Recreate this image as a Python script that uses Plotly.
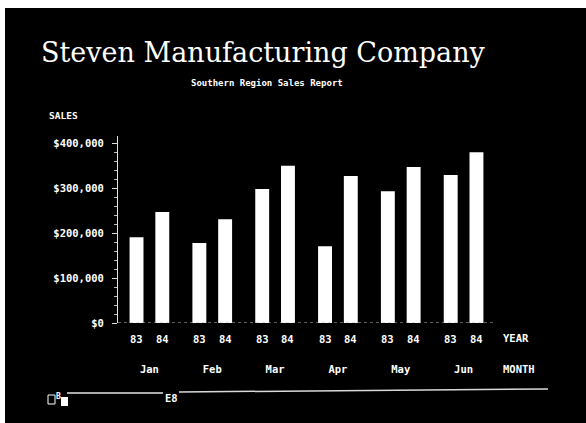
import plotly.graph_objects as go

# Monthly sales, Southern Region
months = ["Jan", "Feb", "Mar", "Apr", "May", "Jun"]
years = ["83", "84"]
sales_83 = [191000, 178000, 298000, 171000, 293000, 329000]
sales_84 = [247000, 231000, 350000, 327000, 347000, 380000]
y_ticks = [0, 100000, 200000, 300000, 400000]

W, H = 586, 423
# plot-area edges in pixels
L, R, T, B = 118, 495, 136, 323

BARGAP, GROUPGAP = 0.18, 0.46


def px(x):
    return (x - L) / (R - L)


def py(y):
    return (B - y) / (B - T)


MONO = "DejaVu Sans Mono"
LABEL_FONT = dict(family=MONO, size=10.5, color="white")


def label(x, y, text, font=LABEL_FONT, xanchor="center"):
    return dict(x=px(x), y=py(y), xref="paper", yref="paper",
                xanchor=xanchor, yanchor="middle", text=text,
                showarrow=False, font=font)


fig = go.Figure()
for yr, vals in zip(years, [sales_83, sales_84]):
    fig.add_trace(go.Bar(
        x=months, y=vals, name=yr,
        marker=dict(color="white", line=dict(width=0)),
        showlegend=False,
    ))

# year labels beneath each bar of a group
unit_px = (R - L) / len(months)
slot_px = unit_px * (1 - BARGAP) / len(years)
annotations = []
for m in months:
    for k, yr in enumerate(years):
        annotations.append(dict(
            x=m, xref="x", y=0, yref="paper", yanchor="top", yshift=-8,
            xshift=(k - (len(years) - 1) / 2) * slot_px,
            text=f"<b>{yr}</b>", showarrow=False, font=LABEL_FONT,
        ))

annotations += [
    label(263, 52, "Steven Manufacturing Company",
          dict(family="DejaVu Serif", size=27, color="white")),
    label(267, 83, "<b>Southern Region Sales Report</b>",
          dict(family=MONO, size=9, color="white")),
    label(47, 115, "<b>SALES</b>", dict(family=MONO, size=9.5, color="white"),
          xanchor="left"),
    label(501, 338, "<b>YEAR</b>", xanchor="left"),
    label(501, 369, "<b>MONTH</b>", xanchor="left"),
    label(171, 398, "<b>E8</b>"),
    label(58, 396, "<b>B</b>", dict(family=MONO, size=8, color="white")),
]

shapes = [
    # dark panel over white paper
    dict(type="rect", xref="paper", yref="paper", layer="below",
         x0=px(5), x1=px(W + 5), y0=py(H + 5), y1=py(8),
         fillcolor="black", line=dict(width=0)),
    # dotted baseline
    dict(type="line", xref="paper", yref="y", x0=0, x1=1, y0=0, y1=0,
         line=dict(color="#bfbfbf", width=1, dash="dot")),
    # status rule at the bottom
    dict(type="line", xref="paper", yref="paper",
         x0=px(67), x1=px(163), y0=py(393), y1=py(393),
         line=dict(color="#e6e6e6", width=1.5)),
    dict(type="line", xref="paper", yref="paper",
         x0=px(179), x1=px(548), y0=py(392), y1=py(389),
         line=dict(color="#d9d9d9", width=1.5)),
    # cursor box
    dict(type="rect", xref="paper", yref="paper",
         x0=px(48), x1=px(55), y0=py(404), y1=py(395),
         line=dict(color="white", width=1), fillcolor="black"),
    dict(type="rect", xref="paper", yref="paper",
         x0=px(61), x1=px(68), y0=py(406), y1=py(397),
         line=dict(width=0), fillcolor="white"),
]

fig.update_layout(
    width=W, height=H,
    margin=dict(l=L, r=W - R, t=T, b=H - B, pad=0),
    paper_bgcolor="white", plot_bgcolor="black",
    barmode="group", bargap=BARGAP, bargroupgap=GROUPGAP,
    annotations=annotations, shapes=shapes,
    xaxis=dict(
        range=[-0.5, len(months) - 0.5], showline=False, showgrid=False,
        zeroline=False, ticks="", ticklabelstandoff=38,
        tickfont=LABEL_FONT,
        ticktext=[f"<b>{m}</b>" for m in months], tickvals=months,
    ),
    yaxis=dict(
        range=[0, 416000], showgrid=False, zeroline=False,
        showline=True, linecolor="#e0e0e0", linewidth=1,
        tickvals=y_ticks, ticktext=[f"<b>${v:,}</b>" for v in y_ticks],
        ticks="outside", ticklen=5, tickcolor="#e0e0e0", tickwidth=1,
        ticklabelstandoff=6,
        tickfont=LABEL_FONT,
        minor=dict(dtick=20000, ticks="outside", ticklen=3,
                   tickcolor="#bdbdbd", showgrid=False),
    ),
)

fig.write_html("out.html")
